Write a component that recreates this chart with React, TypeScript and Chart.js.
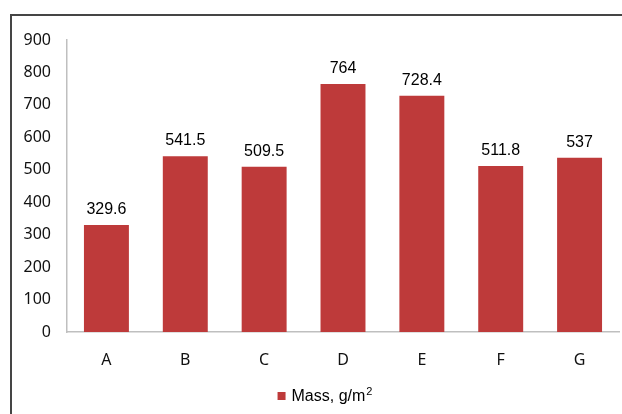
import React, { useEffect, useRef } from "react";
import { Chart, registerables } from "chart.js";

Chart.register(...registerables);

const categories = ["A", "B", "C", "D", "E", "F", "G"];
const massValues = [329.6, 541.5, 509.5, 764, 728.4, 511.8, 537];
const valueLabels = ["329.6", "541.5", "509.5", "764", "728.4", "511.8", "537"];
const seriesName = "Mass, g/m";
const seriesSup = "2";
const yMin = 0;
const yMax = 900;
const yStep = 100;

const BAR_COLOR = "#BE3A3A";

export default function App() {
  const ref = useRef<HTMLCanvasElement | null>(null);

  useEffect(() => {
    if (!ref.current) return;

    const framePlugin = {
      id: "frame",
      beforeDraw(chart: any) {
        const ctx = chart.ctx;
        ctx.save();
        ctx.fillStyle = "#ffffff";
        ctx.fillRect(0, 0, chart.width, chart.height);
        ctx.strokeStyle = "#454545";
        ctx.lineWidth = 2;
        ctx.beginPath();
        ctx.moveTo(11, chart.height + 2);
        ctx.lineTo(11, 15);
        ctx.lineTo(chart.width + 2, 15);
        ctx.stroke();
        ctx.restore();
      },
    };

    const labelsPlugin = {
      id: "valueLabels",
      afterDatasetsDraw(chart: any) {
        const ctx = chart.ctx;
        const meta = chart.getDatasetMeta(0);
        ctx.save();
        ctx.font = "16px 'Liberation Sans', Arial, sans-serif";
        ctx.fillStyle = "#000000";
        ctx.textAlign = "center";
        ctx.textBaseline = "alphabetic";
        meta.data.forEach((bar: any, i: number) => {
          ctx.fillText(valueLabels[i], bar.x, bar.y - 11);
        });
        ctx.restore();
      },
    };

    const legendPlugin = {
      id: "customLegend",
      afterDraw(chart: any) {
        const ctx = chart.ctx;
        const ds = chart.data.datasets[0];
        ctx.save();
        const mainFont = "16px 'Liberation Sans', Arial, sans-serif";
        const supFont = "11px 'Liberation Sans', Arial, sans-serif";
        ctx.font = mainFont;
        const w1 = ctx.measureText(ds.label).width;
        ctx.font = supFont;
        const w2 = ctx.measureText(seriesSup).width;
        const box = 8;
        const gap = 6;
        const total = box + gap + w1 + w2 + 1;
        const cx = (chart.chartArea.left + chart.chartArea.right) / 2 - 18;
        const x0 = cx - total / 2;
        const baseY = 400.5;
        ctx.fillStyle = ds.backgroundColor;
        ctx.fillRect(x0, 392, box, box);
        ctx.fillStyle = "#000000";
        ctx.textAlign = "left";
        ctx.textBaseline = "alphabetic";
        ctx.font = mainFont;
        ctx.fillText(ds.label, x0 + box + gap, baseY);
        ctx.font = supFont;
        ctx.fillText(seriesSup, x0 + box + gap + w1 + 1, baseY - 6);
        ctx.restore();
      },
    };

    const chart = new Chart(ref.current, {
      type: "bar",
      data: {
        labels: categories,
        datasets: [
          {
            label: seriesName,
            data: massValues,
            backgroundColor: BAR_COLOR,
            borderWidth: 0,
            categoryPercentage: 1,
            barPercentage: 0.57,
          },
        ],
      },
      options: {
        animation: false,
        responsive: false,
        maintainAspectRatio: false,
        layout: { padding: { top: 40, left: 0, right: 3, bottom: 0 } },
        plugins: {
          legend: { display: false },
          tooltip: { enabled: false },
        },
        scales: {
          x: {
            grid: { display: false, drawTicks: false },
            border: { display: true, color: "#BFBFBF", width: 1.5 },
            ticks: {
              color: "#111111",
              font: { family: "'Noto Sans', sans-serif", size: 16 },
              padding: 19,
            },
            afterFit(scale: any) {
              scale.height = 82;
            },
          },
          y: {
            min: yMin,
            max: yMax,
            grid: { display: false, drawTicks: false },
            border: { display: true, color: "#BFBFBF", width: 1.5 },
            ticks: {
              stepSize: yStep,
              color: "#111111",
              font: { family: "'Noto Sans', sans-serif", size: 16 },
              padding: 16,
            },
            afterFit(scale: any) {
              scale.width = 67;
            },
          },
        },
      },
      plugins: [framePlugin, labelsPlugin, legendPlugin],
    });

    return () => chart.destroy();
  }, []);

  return (
    <div style={{ position: "absolute", left: 0, top: 0, width: 622, height: 414 }}>
      <canvas ref={ref} width={622} height={414} style={{ display: "block", width: 622, height: 414 }} />
    </div>
  );
}
